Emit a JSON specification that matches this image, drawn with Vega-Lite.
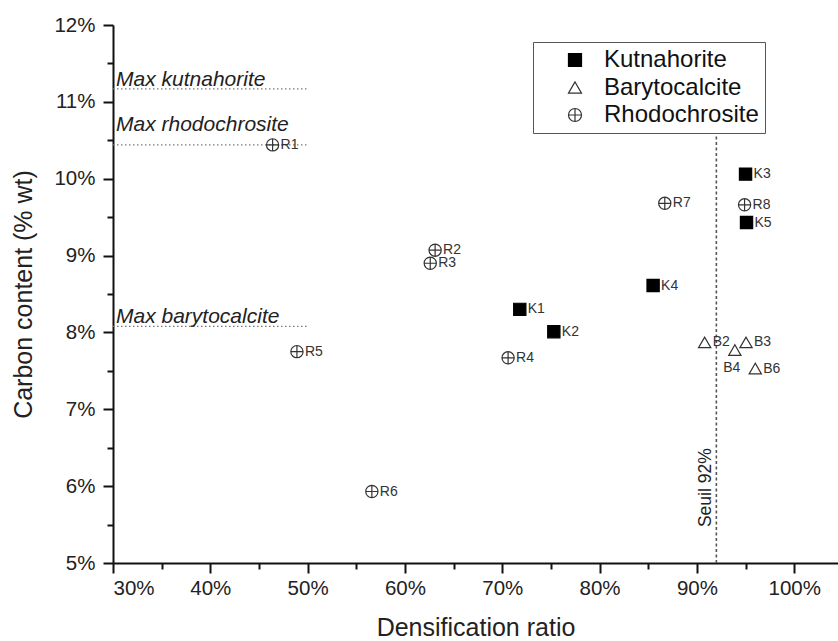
{
  "$schema": "https://vega.github.io/schema/vega-lite/v6.json",
  "width": 725,
  "height": 538,
  "autosize": {"type": "none"},
  "padding": {"left": 113, "top": 25, "right": 0, "bottom": 78},
  "background": "white",
  "config": {
    "view": {"stroke": null},
    "font": "Liberation Sans",
    "axis": {
      "domainColor": "#111", "domainWidth": 2, "tickColor": "#111", "tickWidth": 2,
      "labelFont": "Liberation Sans", "labelFontSize": 20.5, "labelColor": "#222",
      "titleFont": "Liberation Sans", "titleFontWeight": "normal", "titleColor": "#222",
      "grid": false
    },
    "legend": {
      "labelFontSize": 24, "labelFont": "Liberation Sans", "labelColor": "#111",
      "symbolSize": 170, "symbolStrokeWidth": 1.2, "rowPadding": 3.5, "padding": 6,
      "symbolOffset": 24, "labelOffset": 17, "strokeColor": "#555", "fillColor": "white"
    }
  },
  "datasets": {
    "samples": [
      {"id": "K1", "mineral": "Kutnahorite", "ratio": 71.8, "carbon": 8.30},
      {"id": "K2", "mineral": "Kutnahorite", "ratio": 75.3, "carbon": 8.01},
      {"id": "K3", "mineral": "Kutnahorite", "ratio": 95.0, "carbon": 10.06},
      {"id": "K4", "mineral": "Kutnahorite", "ratio": 85.5, "carbon": 8.61},
      {"id": "K5", "mineral": "Kutnahorite", "ratio": 95.1, "carbon": 9.43},
      {"id": "B2", "mineral": "Barytocalcite", "ratio": 90.8, "carbon": 7.87},
      {"id": "B3", "mineral": "Barytocalcite", "ratio": 95.05, "carbon": 7.87},
      {"id": "B4", "mineral": "Barytocalcite", "ratio": 93.9, "carbon": 7.77},
      {"id": "B6", "mineral": "Barytocalcite", "ratio": 96.0, "carbon": 7.53},
      {"id": "R1", "mineral": "Rhodochrosite", "ratio": 46.4, "carbon": 10.44},
      {"id": "R2", "mineral": "Rhodochrosite", "ratio": 63.1, "carbon": 9.07},
      {"id": "R3", "mineral": "Rhodochrosite", "ratio": 62.6, "carbon": 8.90},
      {"id": "R4", "mineral": "Rhodochrosite", "ratio": 70.6, "carbon": 7.67},
      {"id": "R5", "mineral": "Rhodochrosite", "ratio": 48.9, "carbon": 7.75},
      {"id": "R6", "mineral": "Rhodochrosite", "ratio": 56.6, "carbon": 5.93},
      {"id": "R7", "mineral": "Rhodochrosite", "ratio": 86.7, "carbon": 9.68},
      {"id": "R8", "mineral": "Rhodochrosite", "ratio": 94.9, "carbon": 9.66}
    ],
    "limits": [
      {"label": "Max kutnahorite", "carbon": 11.17},
      {"label": "Max rhodochrosite", "carbon": 10.44},
      {"label": "Max barytocalcite", "carbon": 8.08}
    ],
    "threshold": [
      {"label": "Seuil 92%", "ratio": 92, "carbon": 5.98}
    ]
  },
  "resolve": {"axis": {"x": "independent", "y": "independent"}},
  "layer": [
    {
      "data": {"name": "limits"},
      "mark": {"type": "rule", "color": "#777", "strokeWidth": 1.2, "strokeDash": [1.5, 2.5]},
      "encoding": {
        "x": {"datum": 30, "type": "quantitative", "scale": {"domain": [30, 104.5], "nice": false, "zero": false},
              "axis": {"orient": "bottom", "values": [35, 45, 55, 65, 75, 85, 95], "labels": false, "domain": false, "tickSize": 6, "title": null}},
        "x2": {"datum": 50},
        "y": {"field": "carbon", "type": "quantitative", "scale": {"domain": [5, 12], "nice": false, "zero": false},
              "axis": {"orient": "left", "values": [5.5, 6.5, 7.5, 8.5, 9.5, 10.5, 11.5], "labels": false, "domain": false, "tickSize": 6, "title": null}}
      }
    },
    {
      "data": {"name": "limits"},
      "transform": [{"filter": "datum.label != 'Max rhodochrosite'"}],
      "mark": {"type": "text", "align": "left", "baseline": "alphabetic", "dx": 3, "dy": -3, "fontSize": 21, "fontStyle": "italic", "color": "#222"},
      "encoding": {
        "x": {"datum": 30, "type": "quantitative", "axis": null},
        "y": {"field": "carbon", "type": "quantitative", "axis": null},
        "text": {"field": "label"}
      }
    },
    {
      "data": {"name": "limits"},
      "transform": [{"filter": "datum.label == 'Max rhodochrosite'"}],
      "mark": {"type": "text", "align": "left", "baseline": "alphabetic", "dx": 3, "dy": -14, "fontSize": 21, "fontStyle": "italic", "color": "#222"},
      "encoding": {
        "x": {"datum": 30, "type": "quantitative", "axis": null},
        "y": {"field": "carbon", "type": "quantitative", "axis": null},
        "text": {"field": "label"}
      }
    },
    {
      "data": {"name": "threshold"},
      "mark": {"type": "rule", "color": "#555", "strokeWidth": 1.6, "strokeDash": [3, 2.5]},
      "encoding": {
        "x": {"field": "ratio", "type": "quantitative", "axis": null},
        "y": {"datum": 5, "type": "quantitative", "axis": null},
        "y2": {"datum": 10.62}
      }
    },
    {
      "data": {"name": "threshold"},
      "mark": {"type": "text", "angle": 270, "align": "center", "baseline": "bottom", "dy": -1, "fontSize": 17.5, "color": "#222"},
      "encoding": {
        "x": {"field": "ratio", "type": "quantitative", "axis": null},
        "y": {"field": "carbon", "type": "quantitative", "axis": null},
        "text": {"field": "label"}
      }
    },
    {
      "data": {"name": "samples"},
      "mark": {"type": "point", "opacity": 1, "strokeWidth": 1.2, "size": 150},
      "encoding": {
        "x": {"field": "ratio", "type": "quantitative",
              "axis": {"orient": "bottom", "values": [30, 40, 50, 60, 70, 80, 90, 100], "labelExpr": "datum.value + '%'", "tickSize": 10, "labelPadding": 5,
                       "title": "Densification ratio", "titleFontSize": 25, "titlePadding": 17}},
        "y": {"field": "carbon", "type": "quantitative",
              "axis": {"orient": "left", "values": [5, 6, 7, 8, 9, 10, 11, 12], "labelExpr": "datum.value + '%'", "tickSize": 10, "labelPadding": 8,
                       "title": "Carbon content (% wt)", "titleFontSize": 25, "titlePadding": 17}},
        "shape": {"field": "mineral", "type": "nominal",
                  "scale": {"domain": ["Kutnahorite", "Barytocalcite", "Rhodochrosite"],
                            "range": ["square", "triangle-up", "M-1,0A1,1,0,1,1,1,0A1,1,0,1,1,-1,0ZM-1,0L1,0M0,-1L0,1"]},
                  "legend": {"title": null, "orient": "none", "legendX": 420, "legendY": 17}},
        "fill": {"field": "mineral", "type": "nominal",
                 "scale": {"domain": ["Kutnahorite", "Barytocalcite", "Rhodochrosite"], "range": ["#000", "transparent", "transparent"]},
                 "legend": {"title": null, "orient": "none", "legendX": 420, "legendY": 17}},
        "stroke": {"field": "mineral", "type": "nominal",
                   "scale": {"domain": ["Kutnahorite", "Barytocalcite", "Rhodochrosite"], "range": ["#000", "#333", "#333"]},
                   "legend": {"title": null, "orient": "none", "legendX": 420, "legendY": 17}}
      }
    },
    {
      "data": {"name": "samples"},
      "transform": [{"filter": "datum.id != 'B4'"}],
      "mark": {"type": "text", "align": "left", "baseline": "middle", "dx": 8, "fontSize": 14, "color": "#333"},
      "encoding": {
        "x": {"field": "ratio", "type": "quantitative", "axis": null},
        "y": {"field": "carbon", "type": "quantitative", "axis": null},
        "text": {"field": "id"}
      }
    },
    {
      "data": {"name": "samples"},
      "transform": [{"filter": "datum.id == 'B4'"}],
      "mark": {"type": "text", "align": "center", "baseline": "middle", "dx": -3, "dy": 18, "fontSize": 14, "color": "#333"},
      "encoding": {
        "x": {"field": "ratio", "type": "quantitative", "axis": null},
        "y": {"field": "carbon", "type": "quantitative", "axis": null},
        "text": {"field": "id"}
      }
    }
  ]
}
